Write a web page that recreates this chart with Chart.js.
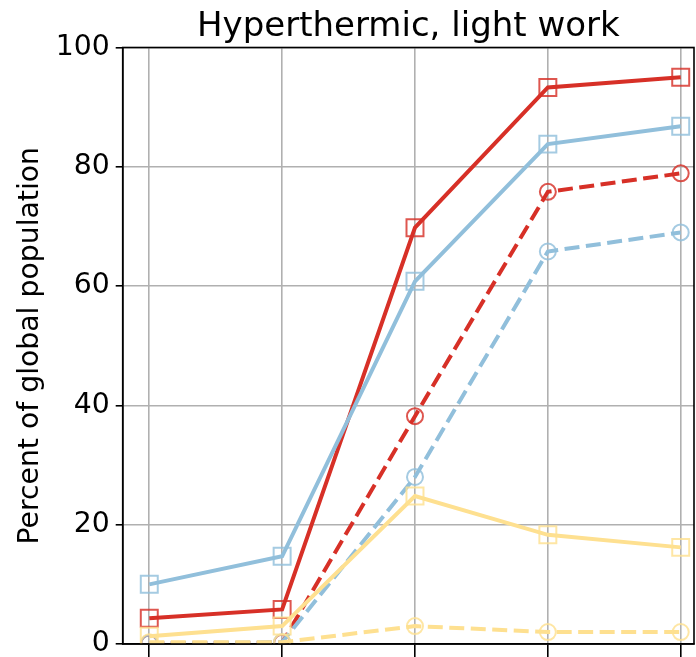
<!DOCTYPE html>
<html>
<head>
<meta charset="utf-8">
<script src="https://cdn.jsdelivr.net/npm/chart.js@4/dist/chart.umd.min.js"></script>
<style>
  html, body { margin: 0; padding: 0; background: #fff; overflow: hidden; }
  #wrap { width: 696px; height: 657px; }
  #chart { display: block; width: 696px; height: 657px; }
</style>
</head>
<body>
<div id="wrap"><canvas id="chart" width="696" height="657"></canvas></div>
<script>
// x positions of the five (unlabelled) categories
const categories = [0, 1, 2, 3, 4];
const yTicks = [0, 20, 40, 60, 80, 100];
const chartTitle = 'Hyperthermic, light work';
const yTitle = 'Percent of global population';

// solid lines, square markers
const redSolid    = [4.3, 5.8, 69.8, 93.3, 95.0];
const blueSolid   = [10.0, 14.7, 60.8, 83.8, 86.8];
const yellowSolid = [1.3, 3.0, 24.8, 18.3, 16.2];
// dashed lines, circle markers
const redDashed    = [0.1, 0.2, 38.2, 75.8, 78.9];
const blueDashed   = [0.1, 0.3, 28.0, 65.8, 69.0];
const yellowDashed = [0.3, 0.3, 3.0, 2.0, 2.0];

const RED = '#d73027', BLUE = '#91bfdb', YELLOW = '#fee090';
const font = 'DejaVu Sans';

const pts = arr => arr.map((v, i) => ({x: categories[i], y: v}));

function series(data, color, dashed, order){
  return {
    data: pts(data),
    borderColor: color,
    borderWidth: 4,
    borderDash: dashed ? [15, 6.5] : [],
    pointStyle: dashed ? 'circle' : 'rect',
    pointRadius: dashed ? 8 : 12,
    pointBorderWidth: 2,
    pointBorderColor: color + 'd0',
    pointBackgroundColor: 'rgba(0,0,0,0)',
    tension: 0,
    clip: 0,
    order
  };
}

// frame around the plot area (all four spines) + title centred on the plot
const frame = {
  id: 'frame',
  afterDatasetsDraw(c){
    const a = c.chartArea, ctx = c.ctx;
    ctx.save();
    ctx.strokeStyle = '#000';
    ctx.lineWidth = 1.6;
    ctx.strokeRect(a.left, a.top, a.right - a.left, a.bottom - a.top);
    ctx.fillStyle = '#000';
    ctx.font = `34px "${font}"`;
    ctx.textAlign = 'center';
    ctx.textBaseline = 'alphabetic';
    ctx.fillText(chartTitle, (a.left + a.right) / 2, 36);
    ctx.restore();
  }
};

new Chart(document.getElementById('chart').getContext('2d'), {
  type: 'line',
  data: {
    datasets: [
      series(yellowSolid, YELLOW, false, 1),
      series(blueSolid, BLUE, false, 2),
      series(redSolid, RED, false, 3),
      series(yellowDashed, YELLOW, true, 4),
      series(blueDashed, BLUE, true, 5),
      series(redDashed, RED, true, 6)
    ]
  },
  options: {
    responsive: false,
    animation: false,
    devicePixelRatio: 1,
    layout: {autoPadding: false, padding: {left: 0, right: 2, top: 47.5, bottom: 0}},
    plugins: {
      legend: {display: false},
      tooltip: {enabled: false},
      title: {display: false}
    },
    scales: {
      x: {
        type: 'linear',
        min: -0.2, max: 4.1,
        afterBuildTicks: s => { s.ticks = categories.map(v => ({value: v})); },
        afterFit: s => { s.height = 13; s.paddingLeft = 0; s.paddingRight = 0; },
        ticks: {callback: () => '', padding: 0},
        grid: {color: '#b0b0b0', lineWidth: 1.6, tickColor: '#000', tickLength: 13, tickWidth: 1.6},
        border: {color: '#000', width: 1.6}
      },
      y: {
        min: 0, max: 100,
        afterBuildTicks: s => { s.ticks = yTicks.map(v => ({value: v})); },
        afterFit: s => { s.width = 122.7; s.paddingTop = 0; s.paddingBottom = 0; },
        ticks: {color: '#000', font: {family: font, size: 28.3}, padding: 6},
        grid: {color: '#b0b0b0', lineWidth: 1.6, tickColor: '#000', tickLength: 7, tickWidth: 1.6},
        border: {color: '#000', width: 1.6},
        title: {
          display: true,
          text: yTitle,
          color: '#000',
          font: {family: font, size: 28.3, lineHeight: 1.2},
          padding: {top: 14, bottom: 0}
        }
      }
    }
  },
  plugins: [frame]
});
</script>
</body>
</html>
